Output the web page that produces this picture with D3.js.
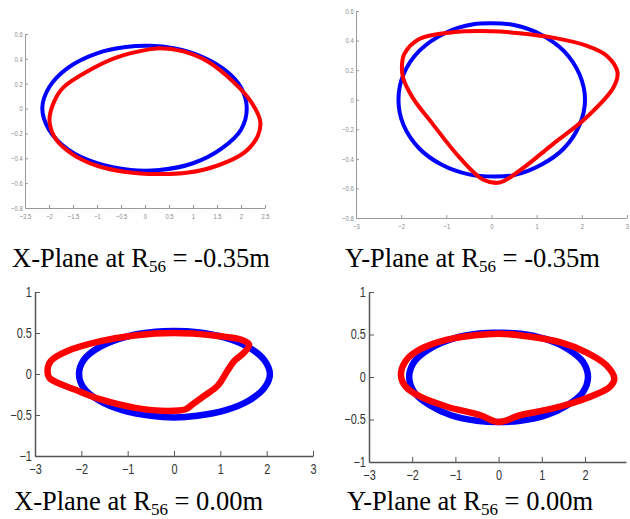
<!DOCTYPE html>
<html>
<head>
<meta charset="utf-8">
<script src="https://cdn.jsdelivr.net/npm/d3@7"></script>
<style>
  body { margin: 0; background: #fff; }
</style>
</head>
<body>
<svg width="630" height="519"></svg>
<script>
// tick values
var xTicksHalf = [-2.5, -2, -1.5, -1, -0.5, 0, 0.5, 1, 1.5, 2, 2.5];
var xTicksInt = [-3, -2, -1, 0, 1, 2, 3];
var xTicksInt4 = [-3, -2, -1, 0, 1, 2];
var yTicksTop = [-0.8, -0.6, -0.4, -0.2, 0, 0.2, 0.4, 0.6];
var yTicksBottom = [-1, -0.5, 0, 0.5, 1];

// captions
var captionText = ["X-Plane at R", "Y-Plane at R", "X-Plane at R", "Y-Plane at R"];
var captionSub = ["56", "56", "56", "56"];
var captionValue = [" = -0.35m", " = -0.35m", " = 0.00m", " = 0.00m"];

// X-plane, R56 = -0.35m
var blueA = [[-2.14,0],[-2.0,0.17],[-1.6,0.33],[-1.0,0.445],[-0.4,0.495],[0.1,0.505],[0.6,0.485],
  [1.2,0.415],[1.7,0.30],[2.0,0.17],[2.12,0.0],[2.0,-0.17],[1.6,-0.32],[1.0,-0.44],[0.3,-0.495],
  [-0.3,-0.495],[-1.0,-0.44],[-1.6,-0.33],[-2.0,-0.17]];
var redA = [[-1.99,-0.10],[-1.9,0.05],[-1.7,0.17],[-1.15,0.31],[-0.6,0.41],[0.0,0.47],[0.3,0.485],
  [0.8,0.46],[1.3,0.38],[1.84,0.215],[2.2,0.06],[2.40,-0.10],[2.35,-0.22],[2.08,-0.35],[1.5,-0.46],
  [0.9,-0.515],[0.25,-0.527],[-0.4,-0.51],[-1.0,-0.46],[-1.5,-0.37],[-1.85,-0.25]];

// Y-plane, R56 = -0.35m
var blueB = [[-2.06,0],[-1.95,0.17],[-1.6,0.33],[-1.0,0.455],[-0.4,0.51],[0.0,0.517],[0.5,0.505],
  [1.1,0.44],[1.6,0.33],[1.95,0.17],[2.07,0.0],[1.95,-0.17],[1.6,-0.33],[1.1,-0.44],[0.5,-0.51],
  [0.05,-0.52],[-0.5,-0.505],[-1.1,-0.44],[-1.6,-0.33],[-1.95,-0.17]];
var redB = [[-1.98,0.242],[-1.93,0.31],[-1.6,0.41],[-0.86,0.456],[0.0,0.463],[0.62,0.45],[1.36,0.42],
  [2.1,0.366],[2.55,0.298],[2.79,0.185],[2.70,0.083],[2.1,-0.12],[1.36,-0.30],[0.62,-0.48],[0.18,-0.56],
  [-0.19,-0.54],[-0.71,-0.39],[-1.30,-0.165],[-1.75,0.016],[-1.96,0.15]];

// X-plane, R56 = 0.00m
var blueC = [[-2.05,0],[-1.95,0.17],[-1.6,0.33],[-1.0,0.46],[-0.4,0.515],[0.0,0.525],[0.5,0.51],
  [1.1,0.445],[1.6,0.33],[1.95,0.17],[2.07,0.0],[1.95,-0.17],[1.6,-0.33],[1.1,-0.445],[0.5,-0.51],
  [0.0,-0.53],[-0.5,-0.51],[-1.1,-0.445],[-1.6,-0.33],[-1.95,-0.17]];
var redC = [[-2.73,0.036],[-2.66,0.158],[-2.30,0.28],[-1.58,0.40],[-0.86,0.47],[0.0,0.50],[0.86,0.47],
  [1.44,0.42],[1.62,0.36],[1.51,0.26],[1.30,0.158],[1.15,0.036],[0.94,-0.145],[0.65,-0.267],
  [0.40,-0.37],[0.25,-0.43],[-0.14,-0.45],[-0.86,-0.41],[-1.58,-0.31],[-2.16,-0.186],[-2.52,-0.105],
  [-2.69,-0.045]];

// Y-plane, R56 = 0.00m
var blueD = [[-2.07,0],[-1.95,0.18],[-1.6,0.33],[-1.0,0.46],[-0.4,0.515],[0.0,0.52],[0.5,0.51],
  [1.1,0.445],[1.6,0.33],[1.95,0.18],[2.07,0.0],[1.95,-0.18],[1.6,-0.33],[1.1,-0.45],[0.5,-0.515],
  [0.0,-0.53],[-0.5,-0.515],[-1.1,-0.45],[-1.6,-0.33],[-1.95,-0.18]];
var redD = [[-2.26,0.02],[-2.14,0.196],[-1.80,0.33],[-1.19,0.44],[-0.57,0.49],[0.0,0.51],[0.65,0.48],
  [1.42,0.41],[2.03,0.29],[2.49,0.14],[2.68,-0.02],[2.57,-0.12],[2.03,-0.25],[1.26,-0.37],[0.50,-0.45],
  [0.0,-0.53],[-0.42,-0.45],[-1.19,-0.35],[-1.80,-0.235],[-2.14,-0.12]];

var svg = d3.select("svg");

var panels = [
  {xd:[-2.5,2.5], xr:[25,265], yd:[-0.8,0.6], yr:[208,34], xt:xTicksHalf, yt:yTicksTop,
   blue:blueA, red:redA, small:true, cx:12, cy:267},
  {xd:[-3,3], xr:[356,627], yd:[-0.8,0.6], yr:[218,11], xt:xTicksInt, yt:yTicksTop,
   blue:blueB, red:redB, small:true, cx:345, cy:267},
  {xd:[-3,3], xr:[35,313], yd:[-1,1], yr:[456,292], xt:xTicksInt, yt:yTicksBottom,
   blue:blueC, red:redC, small:false, cx:14, cy:510},
  {xd:[-3,2.95], xr:[369,626], yd:[-1,1], yr:[462,292], xt:xTicksInt4, yt:yTicksBottom,
   blue:blueD, red:redD, small:false, cx:347, cy:510}
];

panels.forEach(function(p, i) {
  var x = d3.scaleLinear().domain(p.xd).range(p.xr);
  var y = d3.scaleLinear().domain(p.yd).range(p.yr);
  var g = svg.append("g");

  var axisColor = p.small ? "#9a9a9a" : "#555";
  var fs = p.small ? 7.5 : 14;

  var xAxis = d3.axisBottom(x).tickValues(p.xt).tickSizeInner(p.small ? -3 : -5)
    .tickSizeOuter(0).tickPadding(p.small ? 6 : 8).tickFormat(d3.format("~g"));
  var yAxis = d3.axisLeft(y).tickValues(p.yt).tickSizeInner(p.small ? -3 : -5)
    .tickSizeOuter(0).tickPadding(p.small ? 3 : 4).tickFormat(d3.format("~g"));

  var gx = g.append("g").attr("transform", "translate(0," + p.yr[0] + ")").call(xAxis);
  var gy = g.append("g").attr("transform", "translate(" + p.xr[0] + ",0)").call(yAxis);

  [gx, gy].forEach(function(a) {
    a.select(".domain").attr("stroke", axisColor).attr("stroke-width", p.small ? 1 : 1.5);
    a.selectAll(".tick line").attr("stroke", axisColor);
    a.selectAll(".tick text")
      .attr("fill", p.small ? "#888" : "#333")
      .attr("transform", "scale(0.78,1)")
      .style("font-family", "'Liberation Sans', Arial, sans-serif")
      .style("font-size", fs + "px");
  });

  var line = d3.line()
    .x(function(d) { return x(d[0]); })
    .y(function(d) { return y(d[1]); })
    .curve(d3.curveCatmullRomClosed.alpha(0.5));

  var sw = p.small ? 4 : 6.5;
  g.append("path").attr("d", line(p.blue))
    .attr("fill", "none").attr("stroke", "#0000ff").attr("stroke-width", sw);
  g.append("path").attr("d", line(p.red))
    .attr("fill", "none").attr("stroke", "#ff0000").attr("stroke-width", sw);

  // caption
  var t = svg.append("text")
    .attr("x", p.cx).attr("y", p.cy)
    .style("font-family", "'Liberation Serif', 'Times New Roman', serif")
    .style("font-size", "26.5px")
    .attr("fill", "#000");
  t.append("tspan").text(captionText[i]);
  t.append("tspan").attr("dy", 5).style("font-size", "17px").text(captionSub[i]);
  t.append("tspan").attr("dy", -5).text(captionValue[i]);
});
</script>
</body>
</html>
